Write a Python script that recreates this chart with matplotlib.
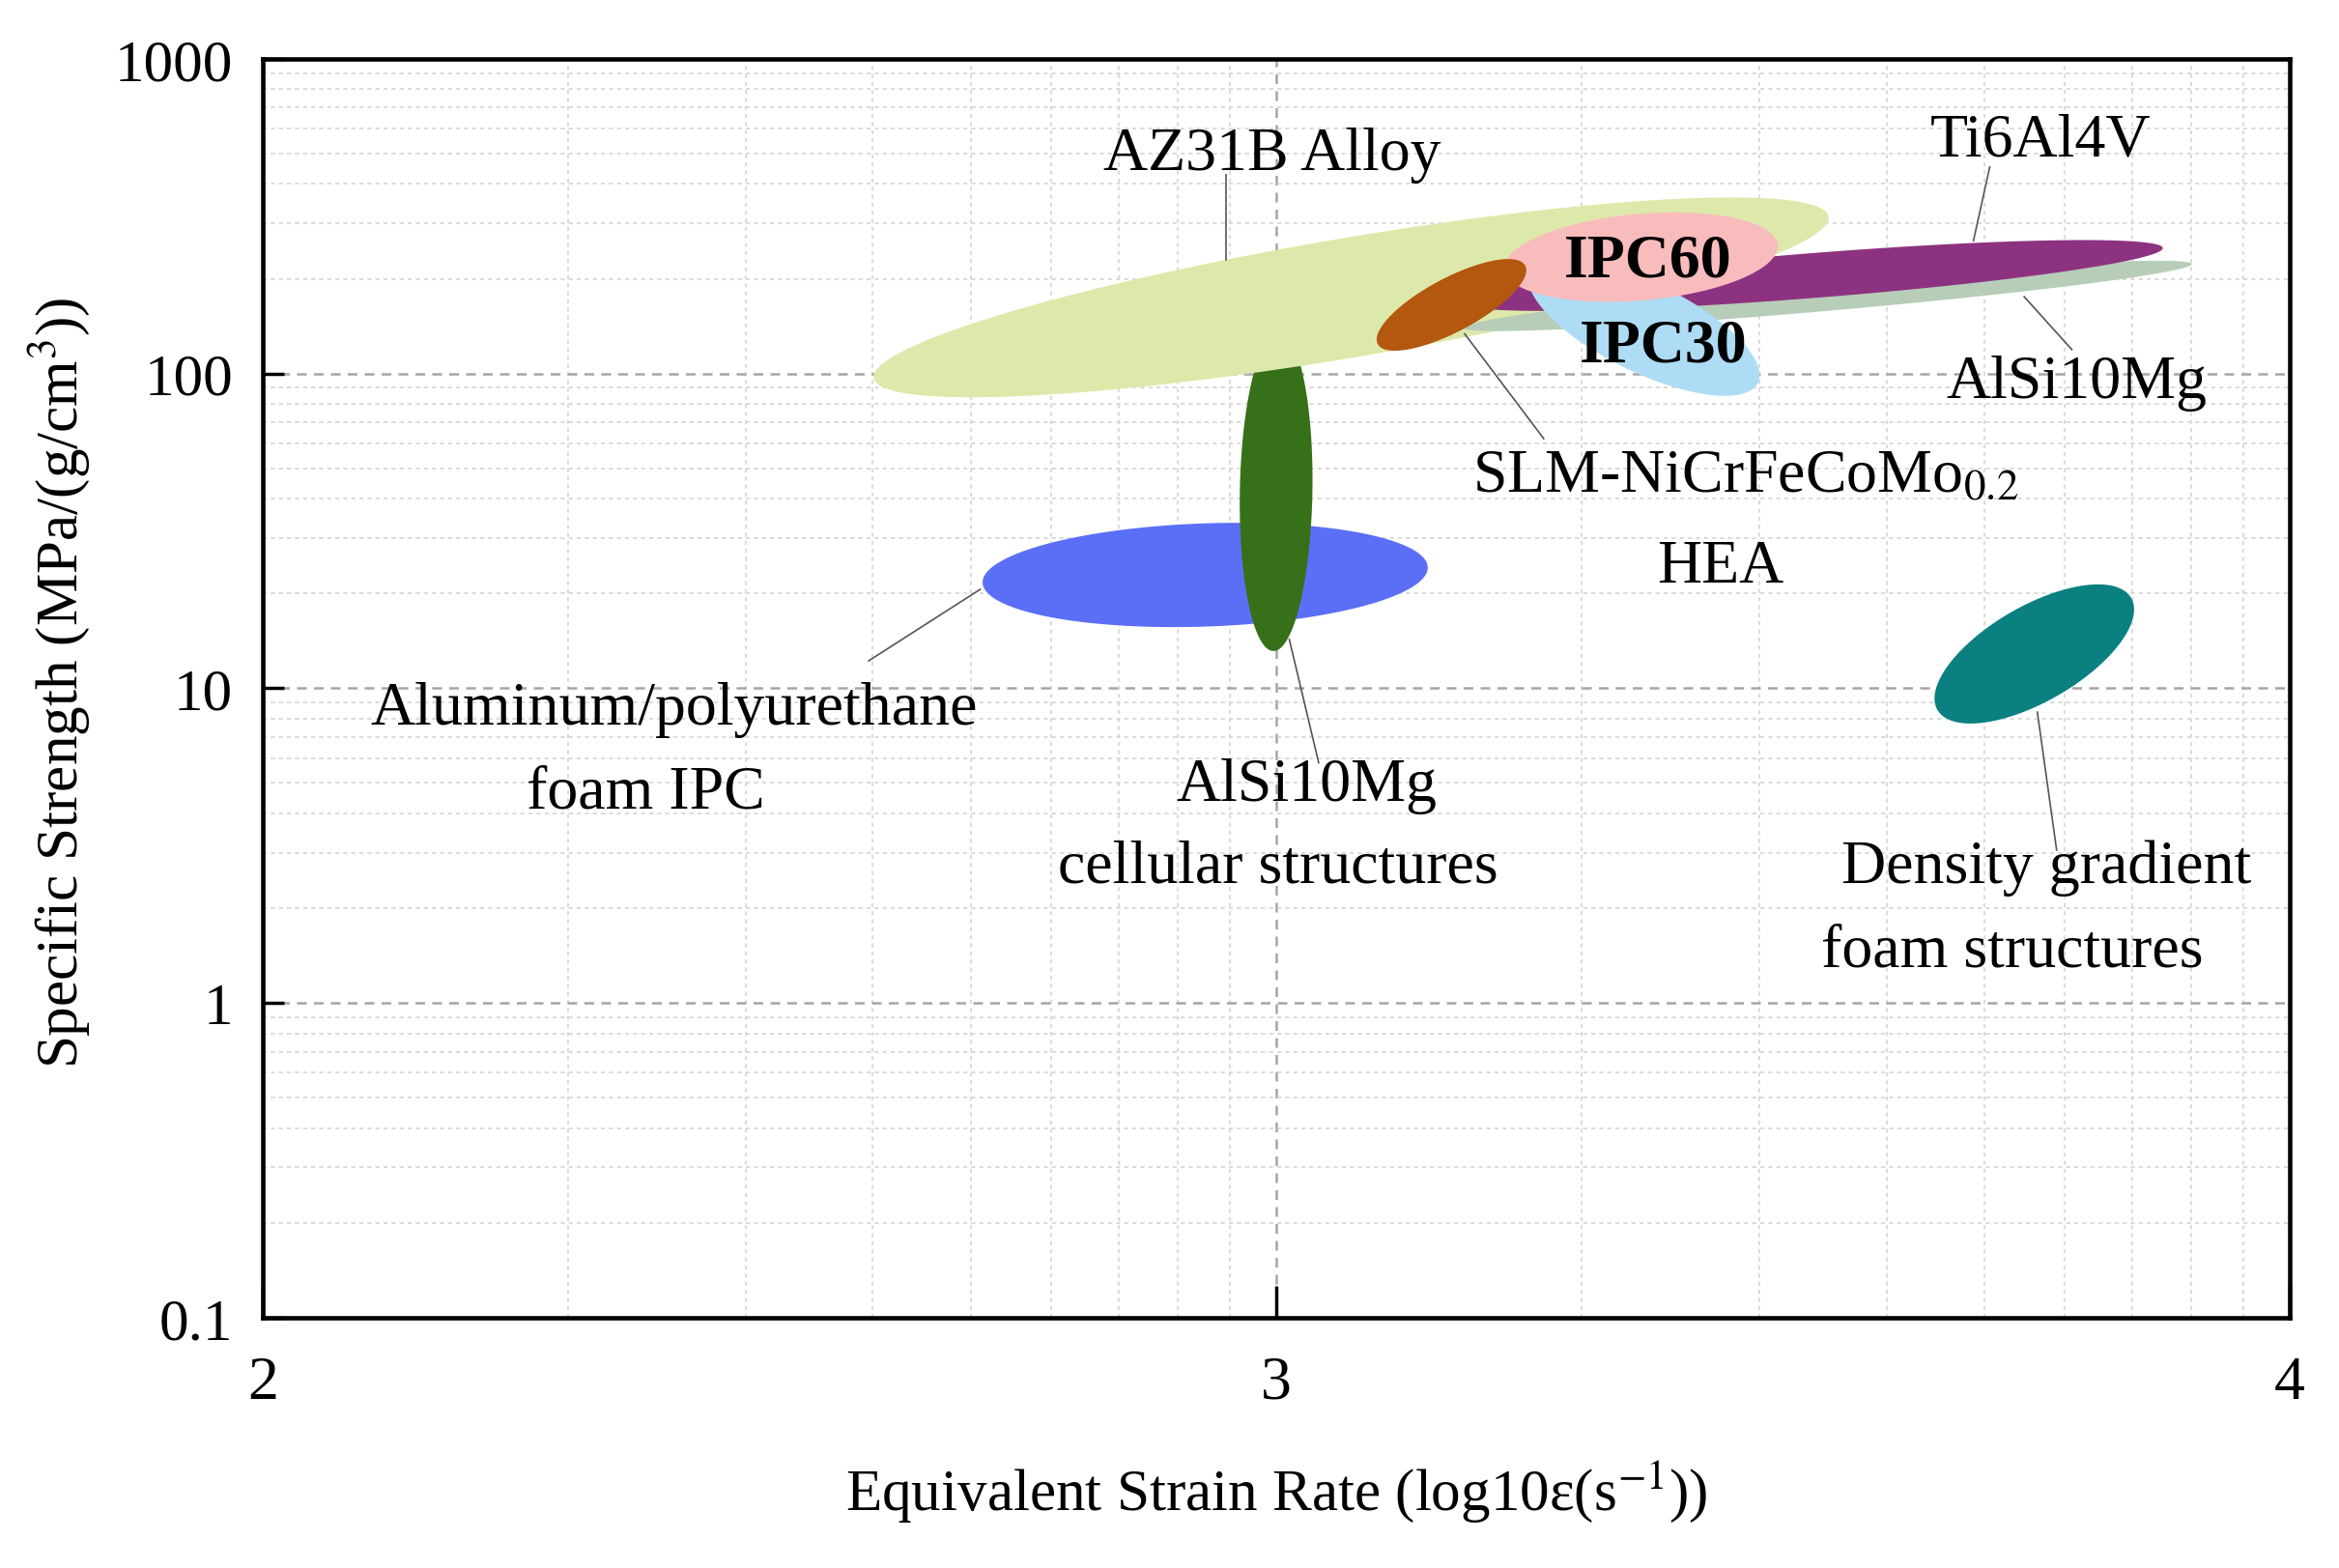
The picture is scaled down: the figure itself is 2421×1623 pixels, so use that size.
import numpy as np
import matplotlib
matplotlib.use("Agg")
import matplotlib.pyplot as plt
from matplotlib.ticker import FixedLocator, FixedFormatter, NullFormatter, LogLocator

# ---------------- data ----------------
# Ellipse regions: centre strain-rate exponent (log10), centre specific strength,
# semi-axes (in decades of strain rate, screen-equivalent) and tilt (deg on screen)
regions = ["Aluminum/polyurethane foam IPC", "AlSi10Mg cellular structures",
           "AZ31B Alloy", "AlSi10Mg", "Ti6Al4V", "IPC30", "IPC60",
           "SLM-NiCrFeCoMo0.2 HEA", "Density gradient foam structures"]
center_log_rate = [2.930, 3.000, 3.074, 3.544, 3.530, 3.363, 3.360, 3.173, 3.748]
center_strength = [22.9, 42.2, 174.5, 176.4, 204.8, 140.3, 234.3, 165.2, 12.85]
semi_major = [0.2197, 0.1575, 0.4777, 0.3606, 0.3458, 0.1251, 0.1354, 0.0824, 0.1104]
semi_minor = [0.0509, 0.0358, 0.0589, 0.0147, 0.0221, 0.0442, 0.0427, 0.0265, 0.0471]
tilt_deg = [2, 89, 9.6, 5, 4.5, -26, 5, 28, 30]
fill_colors = ["#5b6ff6", "#36711a", "#dde9aa", "#b7cdb8", "#8d3280",
               "#aedcf5", "#f8bcbd", "#b4570f", "#0b8080"]

# Text labels (x as log10 strain rate, y as strength)
label_texts = ["AZ31B Alloy", "Ti6Al4V", "AlSi10Mg", "IPC60", "IPC30",
               "SLM-NiCrFeCoMo$_{0.2}$", "HEA", "Aluminum/polyurethane", "foam IPC",
               "AlSi10Mg", "cellular structures", "Density gradient", "foam structures"]
label_log_rate = [2.996, 3.754, 3.790, 3.367, 3.382, 3.463, 3.438, 2.406, 2.378,
                  3.030, 3.002, 3.760, 3.726]
label_strength = [10**2.697, 10**2.739, 10**1.972, 10**2.356, 10**2.085, 10**1.673,
                  10**1.384, 10**0.934, 10**0.668, 10**0.692, 10**0.431,
                  10**0.431, 10**0.166]
label_bold = [False, False, False, True, True, False, False, False, False,
              False, False, False, False]

# Leader lines: (log rate start, strength start, log rate end, strength end)
leader_x0 = [2.951, 3.688, 3.738, 3.186, 2.708, 3.013, 3.751]
leader_y0 = [10**2.360, 10**2.422, 10**2.244, 10**2.126, 10**1.314, 10**1.155, 10**0.924]
leader_x1 = [2.951, 3.704, 3.785, 3.264, 2.598, 3.042, 3.770]
leader_y1 = [10**2.630, 10**2.656, 10**2.076, 10**1.793, 10**1.087, 10**0.763, 10**0.486]

y_ticks = [0.1, 1, 10, 100, 1000]
y_tick_labels = ["0.1", "1", "10", "100", "1000"]
x_ticks = [1e2, 1e3, 1e4]
x_tick_labels = ["2", "3", "4"]

# ---------------- figure ----------------
plt.rcParams["font.family"] = ["Liberation Serif", "DejaVu Serif"]
plt.rcParams["mathtext.fontset"] = "stix"

fig = plt.figure(figsize=(24.21, 16.24), dpi=100)
ax = fig.add_axes([0.11223, 0.15954, 0.86671, 0.80240])
ax.set_xscale("log")
ax.set_yscale("log")
ax.set_xlim(1e2, 1e4)
ax.set_ylim(0.1, 1000)

# pixel scale per decade for drawing screen-shaped ellipses
p0 = ax.transData.transform((1e2, 1e-1))
p1 = ax.transData.transform((1e4, 1e3))
sx = (p1[0] - p0[0]) / 2.0
sy = (p1[1] - p0[1]) / 4.0
ratio = sx / sy

t = np.linspace(0, 2 * np.pi, 400)
for i in range(len(regions)):
    th = np.deg2rad(tilt_deg[i])
    a, b = semi_major[i], semi_minor[i]
    ex = a * np.cos(t) * np.cos(th) - b * np.sin(t) * np.sin(th)
    ey = a * np.cos(t) * np.sin(th) + b * np.sin(t) * np.cos(th)
    lx = center_log_rate[i] + ex
    ly = np.log10(center_strength[i]) + ey * ratio
    ax.fill(10 ** lx, 10 ** ly, color=fill_colors[i], lw=0, zorder=1 + i * 0.05)

for i in range(len(leader_x0)):
    ax.plot([10 ** leader_x0[i], 10 ** leader_x1[i]], [leader_y0[i], leader_y1[i]],
            color="#555555", lw=1.2, zorder=3)

for i, s in enumerate(label_texts):
    ax.text(10 ** label_log_rate[i], label_strength[i], s, ha="center", va="center",
            fontsize=46, fontweight="bold" if label_bold[i] else "normal", zorder=4)

# axes styling
ax.yaxis.set_major_locator(FixedLocator(y_ticks))
ax.yaxis.set_major_formatter(FixedFormatter(y_tick_labels))
ax.xaxis.set_major_locator(FixedLocator(x_ticks))
ax.xaxis.set_major_formatter(FixedFormatter(x_tick_labels))
ax.xaxis.set_minor_locator(LogLocator(base=10, subs=np.arange(2, 10), numticks=30))
ax.yaxis.set_minor_locator(LogLocator(base=10, subs=np.arange(2, 10), numticks=30))
ax.xaxis.set_minor_formatter(NullFormatter())
ax.yaxis.set_minor_formatter(NullFormatter())

ax.set_axisbelow(True)
ax.grid(which="major", linestyle=(0, (4, 3)), color="#a5a5a5", lw=1.8)
ax.grid(which="minor", linestyle=(0, (2.5, 2.5)), color="#d4d4d4", lw=1.2)

ax.tick_params(which="minor", length=0)
ax.tick_params(axis="x", which="major", direction="in", length=24, width=2.5,
               labelsize=46, pad=28, top=False)
ax.tick_params(axis="y", which="major", direction="in", length=16, width=2.5,
               labelsize=44, pad=22, right=False)

for sp in ax.spines.values():
    sp.set_linewidth(3.3)
    sp.set_color("black")

ax.set_xlabel("Equivalent Strain Rate (log10\u03b5(s$^{-1}$))", fontsize=44, va="center")
ax.xaxis.set_label_coords(0.5, -0.1374)
ax.set_ylabel("Specific Strength (MPa/(g/cm$^{3}$))", fontsize=44, va="center")
ax.yaxis.set_label_coords(-0.1001, 0.5053)

fig.savefig("out.png", dpi=100)
